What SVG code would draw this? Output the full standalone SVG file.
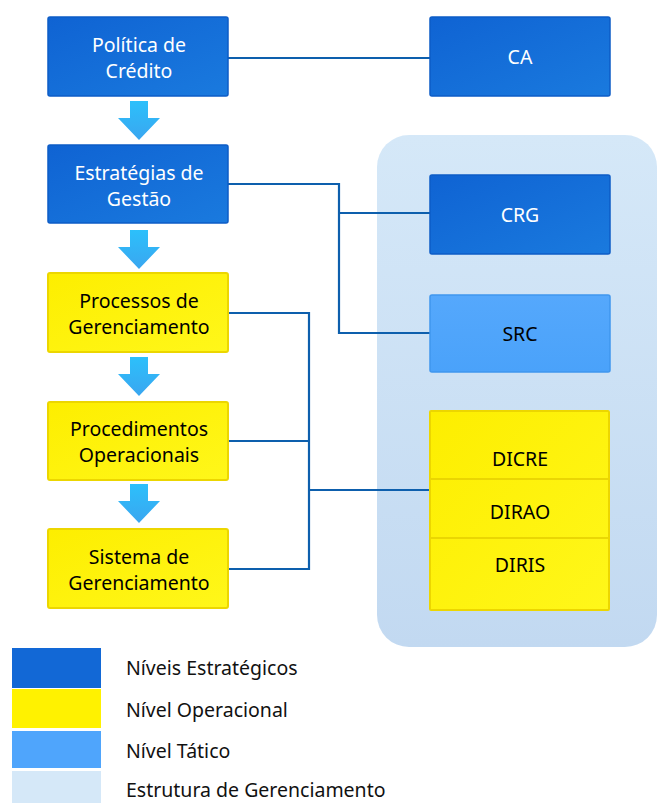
<svg xmlns="http://www.w3.org/2000/svg" width="657" height="803" viewBox="0 0 657 803">
<defs>
<linearGradient id="gBlue" x1="0" y1="0" x2="1" y2="1">
<stop offset="0" stop-color="#0f63d3"/>
<stop offset="1" stop-color="#1a7ade"/>
</linearGradient>
<linearGradient id="gTat" x1="0" y1="0" x2="0" y2="1">
<stop offset="0" stop-color="#55a8fc"/>
<stop offset="1" stop-color="#4aa2fa"/>
</linearGradient>
<linearGradient id="gYel" x1="0" y1="0" x2="1" y2="1">
<stop offset="0" stop-color="#fdee00"/>
<stop offset="1" stop-color="#fff71a"/>
</linearGradient>
<linearGradient id="gPanel" x1="0" y1="0" x2="0" y2="1">
<stop offset="0" stop-color="#d5e8f8"/>
<stop offset="1" stop-color="#c2d9f1"/>
</linearGradient>
<linearGradient id="gArrow" x1="0" y1="0" x2="0" y2="1">
<stop offset="0" stop-color="#2cc0fb"/>
<stop offset="1" stop-color="#3aa6f0"/>
</linearGradient>
</defs>
<style>
.blue{fill:url(#gBlue);stroke:#0d5cc6;stroke-width:1.5}
.tat{fill:url(#gTat);stroke:#3f96ee;stroke-width:1.5}
.yel{fill:url(#gYel);stroke:#ecd600;stroke-width:2}
.t{font-family:"Noto Sans","Open Sans","DejaVu Sans",sans-serif;font-size:19.5px;text-anchor:middle}
.w{fill:#ffffff}
.k{fill:#000000}
.lg{font-family:"Noto Sans","Open Sans","DejaVu Sans",sans-serif;font-size:19.5px;fill:#111111}
.con{fill:none;stroke:#0d5fad;stroke-width:2.2}
.arr{fill:url(#gArrow)}
</style>
<rect id="panel" x="377" y="135" width="280" height="512" rx="32" fill="url(#gPanel)"/>
<g id="connectors">
<polyline class="con" points="228,58 430,58"/>
<polyline class="con" points="228,184 339,184 339,333 430,333"/>
<polyline class="con" points="339,213 430,213"/>
<polyline class="con" points="228,313 309,313 309,569 228,569"/>
<polyline class="con" points="228,441 309,441"/>
<polyline class="con" points="309,490 430,490"/>
<path class="arr" d="M130,101 H148 V118 H160 L139,140 L118,118 H130 Z"/>
<path class="arr" d="M130,230 H148 V247 H160 L139,269 L118,247 H130 Z"/>
<path class="arr" d="M130,357 H148 V374 H160 L139,396 L118,374 H130 Z"/>
<path class="arr" d="M130,484 H148 V501 H160 L139,523 L118,501 H130 Z"/>
</g>
<g id="politica">
<rect class="blue" x="48" y="17" width="180" height="79" rx="2"/>
<text class="t w" x="139" y="52">Política de</text>
<text class="t w" x="139" y="78">Crédito</text>
</g>
<g id="estrategias">
<rect class="blue" x="48" y="145" width="180" height="78" rx="2"/>
<text class="t w" x="139" y="180">Estratégias de</text>
<text class="t w" x="139" y="206">Gestão</text>
</g>
<g id="processos">
<rect class="yel" x="48" y="273" width="180" height="79" rx="2"/>
<text class="t k" x="139" y="308">Processos de</text>
<text class="t k" x="139" y="334">Gerenciamento</text>
</g>
<g id="procedimentos">
<rect class="yel" x="48" y="402" width="180" height="78" rx="2"/>
<text class="t k" x="139" y="436">Procedimentos</text>
<text class="t k" x="139" y="462">Operacionais</text>
</g>
<g id="sistema">
<rect class="yel" x="48" y="529" width="180" height="79" rx="2"/>
<text class="t k" x="139" y="564">Sistema de</text>
<text class="t k" x="139" y="590">Gerenciamento</text>
</g>
<g id="ca">
<rect class="blue" x="430" y="17" width="180" height="79" rx="2"/>
<text class="t w" x="520" y="64">CA</text>
</g>
<g id="crg">
<rect class="blue" x="430" y="175" width="180" height="79" rx="2"/>
<text class="t w" x="520" y="222">CRG</text>
</g>
<g id="src">
<rect class="tat" x="430" y="295" width="180" height="77" rx="2"/>
<text class="t k" x="520" y="341">SRC</text>
</g>
<g id="diretorias">
<rect class="yel" x="430" y="411" width="179" height="199" rx="1"/>
<line x1="431" y1="479" x2="608" y2="479" stroke="#e3cc00" stroke-width="1.5"/>
<line x1="431" y1="538" x2="608" y2="538" stroke="#e3cc00" stroke-width="1.5"/>
<text class="t k" x="520" y="466">DICRE</text>
<text class="t k" x="520" y="519">DIRAO</text>
<text class="t k" x="520" y="572">DIRIS</text>
</g>
<g id="legend">
<rect x="12" y="648" width="89" height="40" fill="#1268d6"/>
<rect x="12" y="689" width="89" height="39" fill="#fff200"/>
<rect x="12" y="731" width="89" height="37" fill="#4fa5fc"/>
<rect x="12" y="771" width="89" height="32" fill="#d5e8f8"/>
<text class="lg" x="126" y="675">Níveis Estratégicos</text>
<text class="lg" x="126" y="717">Nível Operacional</text>
<text class="lg" x="126" y="758">Nível Tático</text>
<text class="lg" x="126" y="797">Estrutura de Gerenciamento</text>
</g>
</svg>
